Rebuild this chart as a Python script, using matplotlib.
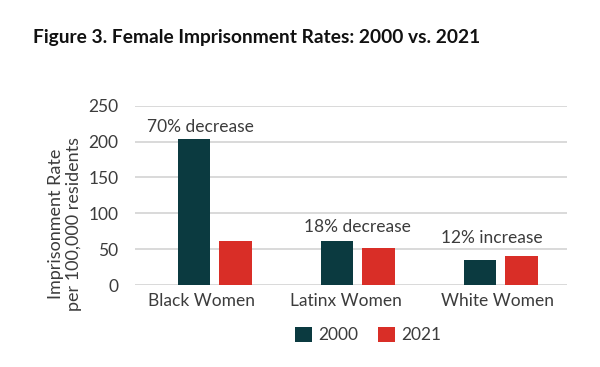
import numpy as np
import matplotlib
matplotlib.use('agg')
import matplotlib.pyplot as plt
from matplotlib.patches import Patch

plt.rcParams['font.family'] = ['Lato', 'DejaVu Sans']

## Datos
grupos   = ['Black Women', 'Latinx Women', 'White Women']
tasa2000 = [204, 62, 35]
tasa2021 = [62, 52, 40]
cambios  = ['70% decrease', '18% decrease', '12% increase']
anios    = ['2000', '2021']

col2000 = '#0b3a40'
col2021 = '#d92e27'
gris    = '#3c3c3c'
fs      = 12.5

fig = plt.figure(figsize=(6, 3.67), dpi=100)
ax = fig.add_axes([0.225, 0.2234, 0.72, 0.4886])

x = np.arange(len(grupos))
w = 0.228
d = 0.145
ax.bar(x - d, tasa2000, w, color=col2000, zorder=3)
ax.bar(x + d, tasa2021, w, color=col2021, zorder=3)

# Texto de cambio sobre cada grupo
pos_txt = [(-0.10, 213), (0.0, 74), (-0.063, 59)]
for i in range(len(grupos)):
    ax.text(x[i] + pos_txt[i][0], pos_txt[i][1], cambios[i],
            ha='center', va='baseline', fontsize=fs, color=gris)

ax.set_xlim(-0.557, 2.464)
ax.set_ylim(0, 250)
ax.set_yticks([0, 50, 100, 150, 200, 250])
ax.set_xticks(x - np.array([0.095, 0.08, 0.02]))
ax.set_xticklabels(grupos)
ax.tick_params(axis='both', length=0, labelsize=fs, labelcolor=gris)
ax.tick_params(axis='y', pad=12)
ax.tick_params(axis='x', pad=6)
ax.yaxis.grid(True, color='#d9d9d9', linewidth=1.4, zorder=0)
ax.set_axisbelow(True)
for s in ax.spines.values():
    s.set_visible(False)

fig.text(65/600, 1 - 224/367, 'Imprisonment Rate\nper 100,000 residents',
         rotation=90, ha='center', va='center', multialignment='center',
         fontsize=13, color=gris, linespacing=1.1)

fig.text(33/600, 1 - 43/367, 'Figure 3. Female Imprisonment Rates: 2000 vs. 2021',
         ha='left', va='baseline', fontsize=13.8, fontweight='bold', color='#111111')

handles = [Patch(facecolor=col2000), Patch(facecolor=col2021)]
fig.legend(handles, anios, loc='center', bbox_to_anchor=(368/600, 1 - 335/367),
           ncol=2, frameon=False, fontsize=fs, handlelength=1.0, handleheight=1.0,
           handletextpad=0.35, columnspacing=1.1, labelcolor=gris,
           borderpad=0, borderaxespad=0)

plt.savefig('out.png', dpi=100)
